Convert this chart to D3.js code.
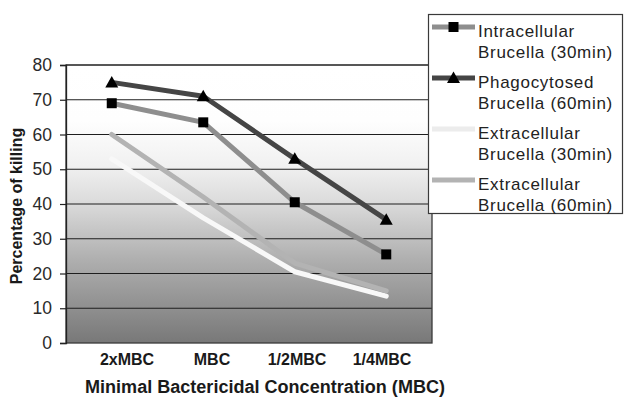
<!DOCTYPE html>
<html>
<head>
<meta charset="utf-8">
<script src="https://cdn.jsdelivr.net/npm/d3@7"></script>
<style>
  html, body { margin: 0; padding: 0; background: #fff; }
  svg { display: block; font-family: "Liberation Sans", Arial, sans-serif; }
</style>
</head>
<body>
<svg id="chart" width="625" height="398"></svg>
<script>
// Categories along the x axis
const concentrations = ["2xMBC", "MBC", "1/2MBC", "1/4MBC"];

// Percentage of killing for each series
const intracellular30 = [69, 63.5, 40.5, 25.5];
const phagocytosed60 = [75, 71, 53, 35.5];
const extracellular30 = [53, 36, 20.5, 13.5];
const extracellular60 = [60, 42, 23, 15];

const yTicks = [0, 10, 20, 30, 40, 50, 60, 70, 80];

const seriesNames = [
  ["Intracellular", "Brucella (30min)"],
  ["Phagocytosed", "Brucella (60min)"],
  ["Extracellular", "Brucella (30min)"],
  ["Extracellular", "Brucella (60min)"]
];

const series = [
  { name: seriesNames[0], values: intracellular30, color: "#8e8e8e", legendColor: "#8e8e8e", marker: "square" },
  { name: seriesNames[1], values: phagocytosed60, color: "#454545", legendColor: "#454545", marker: "triangle" },
  { name: seriesNames[2], values: extracellular30, color: "#f8f8f8", legendColor: "#ececec", marker: null },
  { name: seriesNames[3], values: extracellular60, color: "#b3b3b3", legendColor: "#b3b3b3", marker: null }
];

const svg = d3.select("#chart");
const plot = { left: 66, right: 432, top: 65, bottom: 343 };

const x = d3.scalePoint().domain(concentrations).range([plot.left, plot.right]).padding(0.5);
const xLabel = d3.scalePoint().domain(concentrations).range([127, 382]);
const y = d3.scaleLinear().domain([0, 80]).range([plot.bottom, plot.top]);

// Plot-area gradient fill: white at the top fading to mid grey
const defs = svg.append("defs");
const grad = defs.append("linearGradient").attr("id", "bg")
  .attr("x1", 0).attr("y1", 0).attr("x2", 0).attr("y2", 1);
[[0, "#ffffff"], [0.2, "#fefefe"], [0.36, "#f1f1f1"], [0.5, "#dadada"], [0.7, "#afafaf"], [1, "#787878"]]
  .forEach(([o, c]) => grad.append("stop").attr("offset", o).attr("stop-color", c));

svg.append("rect")
  .attr("x", plot.left).attr("y", plot.top)
  .attr("width", plot.right - plot.left).attr("height", plot.bottom - plot.top)
  .attr("fill", "url(#bg)");

// Horizontal gridlines
svg.append("g").selectAll("line").data(yTicks.filter(d => d > 0)).join("line")
  .attr("x1", plot.left).attr("x2", plot.right)
  .attr("y1", d => y(d)).attr("y2", d => y(d))
  .attr("stroke", "#1e1e1e").attr("stroke-width", 1.2);

// Plot border
svg.append("rect")
  .attr("x", plot.left).attr("y", plot.top)
  .attr("width", plot.right - plot.left).attr("height", plot.bottom - plot.top)
  .attr("fill", "none").attr("stroke", "#3a3a3a").attr("stroke-width", 1.3);

// Y axis
const yAxis = svg.append("g").attr("transform", `translate(${plot.left},0)`)
  .call(d3.axisLeft(y).tickValues(yTicks).tickSize(6).tickPadding(8));
yAxis.select(".domain").attr("stroke", "#222").attr("stroke-width", 1.3);
yAxis.selectAll(".tick line").attr("stroke", "#222").attr("stroke-width", 1.2);
yAxis.selectAll(".tick text")
  .attr("font-size", 17.5).attr("fill", "#2a2a2a")
  .attr("font-family", "Liberation Sans, Arial, sans-serif");

// X axis labels
svg.append("g").selectAll("text").data(concentrations).join("text")
  .attr("x", d => xLabel(d)).attr("y", 365)
  .attr("text-anchor", "middle")
  .attr("font-size", 16).attr("font-weight", "bold").attr("fill", "#1a1a1a")
  .text(d => d);

// Axis titles
svg.append("text")
  .attr("x", 265).attr("y", 393)
  .attr("text-anchor", "middle")
  .attr("font-size", 18).attr("font-weight", "bold").attr("fill", "#1a1a1a")
  .attr("textLength", 360).attr("lengthAdjust", "spacingAndGlyphs")
  .text("Minimal Bactericidal Concentration (MBC)");

svg.append("text")
  .attr("transform", "translate(22,206) rotate(-90)")
  .attr("text-anchor", "middle")
  .attr("font-size", 16).attr("font-weight", "bold").attr("fill", "#1a1a1a")
  .text("Percentage of killing");

// Series lines
const line = d3.line().x((d, i) => x(concentrations[i])).y(d => y(d));
const drawOrder = [2, 3, 0, 1];

function drawMarker(g, type, cx, cy) {
  if (type === "square") {
    g.append("rect").attr("x", cx - 5).attr("y", cy - 5)
      .attr("width", 10).attr("height", 10).attr("fill", "#000");
  } else if (type === "triangle") {
    g.append("path")
      .attr("d", `M${cx},${cy - 6.5}L${cx + 6.5},${cy + 5}L${cx - 6.5},${cy + 5}Z`)
      .attr("fill", "#000");
  }
}

drawOrder.forEach(k => {
  const s = series[k];
  const g = svg.append("g");
  g.append("path").datum(s.values)
    .attr("d", line)
    .attr("fill", "none").attr("stroke", s.color)
    .attr("stroke-width", 5).attr("stroke-linejoin", "round").attr("stroke-linecap", "round");
  if (s.marker) {
    s.values.forEach((v, i) => drawMarker(g, s.marker, x(concentrations[i]), y(v)));
  }
});

// Legend
const legend = svg.append("g");
legend.append("rect")
  .attr("x", 428.5).attr("y", 14.5).attr("width", 194).attr("height", 199)
  .attr("fill", "#fff").attr("stroke", "#3a3a3a").attr("stroke-width", 1.2);

series.forEach((s, k) => {
  const top = 27 + k * 51;
  const g = legend.append("g");
  g.append("line")
    .attr("x1", 432).attr("x2", 475).attr("y1", top).attr("y2", top)
    .attr("stroke", s.legendColor).attr("stroke-width", 5);
  if (s.marker) drawMarker(g, s.marker, 453.5, top);
  g.append("text")
    .attr("x", 478).attr("y", top + 10)
    .attr("font-size", 17).attr("fill", "#222").attr("letter-spacing", 0.7)
    .text(s.name[0]);
  g.append("text")
    .attr("x", 478).attr("y", top + 31)
    .attr("font-size", 17).attr("fill", "#222").attr("letter-spacing", 0.7)
    .text(s.name[1]);
});
</script>
</body>
</html>
